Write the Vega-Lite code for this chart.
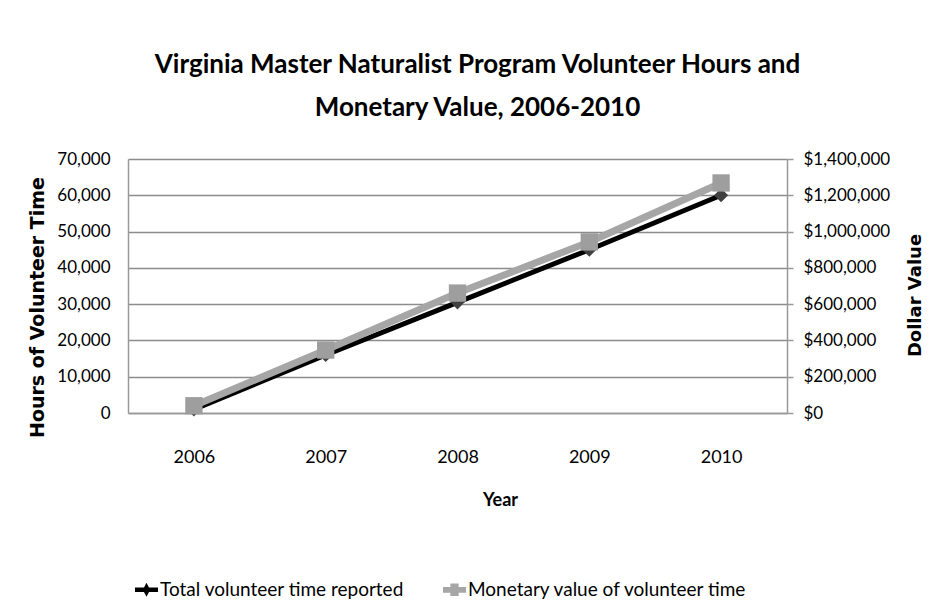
{
  "$schema": "https://vega.github.io/schema/vega-lite/v6.json",
  "width": 659,
  "height": 254,
  "autosize": "none",
  "padding": {"left": 128, "top": 159, "right": 152, "bottom": 201},
  "background": "white",
  "title": {
    "text": ["Virginia Master Naturalist Program Volunteer Hours and", "Monetary Value, 2006-2010"],
    "font": "Lato",
    "fontSize": 26,
    "fontWeight": "bold",
    "color": "black",
    "anchor": "middle",
    "dx": 20,
    "lineHeight": 43,
    "offset": 29
  },
  "data": {
    "values": [
      {"year": "2006", "series": "Total volunteer time reported", "value": 1000},
      {"year": "2007", "series": "Total volunteer time reported", "value": 16000},
      {"year": "2008", "series": "Total volunteer time reported", "value": 30500},
      {"year": "2009", "series": "Total volunteer time reported", "value": 45000},
      {"year": "2010", "series": "Total volunteer time reported", "value": 60000},
      {"year": "2006", "series": "Monetary value of volunteer time", "value": 40000},
      {"year": "2007", "series": "Monetary value of volunteer time", "value": 347000},
      {"year": "2008", "series": "Monetary value of volunteer time", "value": 661000},
      {"year": "2009", "series": "Monetary value of volunteer time", "value": 943000},
      {"year": "2010", "series": "Monetary value of volunteer time", "value": 1268000}
    ]
  },
  "encoding": {
    "x": {
      "field": "year",
      "type": "ordinal",
      "scale": {"paddingInner": 0, "paddingOuter": 0},
      "axis": {
        "title": "Year",
        "labelAngle": 0,
        "ticks": false,
        "tickSize": 0,
        "labelPadding": 35,
        "labelFont": "Lato",
        "labelFontSize": 18,
        "labelColor": "black",
        "domainColor": "#999999",
        "domainWidth": 1.5,
        "titleFont": "Lato",
        "titleFontSize": 18,
        "titleFontWeight": "bold",
        "titleColor": "black",
        "titleX": 372,
        "titleY": 87,
        "titleBaseline": "middle",
        "titleAlign": "center"
      }
    }
  },
  "layer": [
    {
      "transform": [{"filter": "datum.series === 'Total volunteer time reported'"}],
      "encoding": {
        "y": {
          "field": "value",
          "type": "quantitative",
          "scale": {"domain": [0, 70000], "nice": false},
          "axis": {
            "title": "Hours of Volunteer Time",
            "values": [0, 10000, 20000, 30000, 40000, 50000, 60000, 70000],
            "format": ",.0f",
            "ticks": false,
            "tickSize": 0,
            "labelPadding": 18,
            "labelFont": "Lato",
            "labelFontSize": 17,
            "labelColor": "black",
            "domainColor": "#999999",
            "domainWidth": 1.5,
            "grid": true,
            "gridColor": "#8c8c8c",
            "gridWidth": 1.5,
            "titleFont": "DejaVu Sans",
            "titleFontSize": 19,
            "titleFontWeight": "bold",
            "titleColor": "black",
            "titleAngle": -90,
            "titleX": -91,
            "titleY": 148,
            "titleAlign": "center",
            "titleBaseline": "middle"
          }
        }
      },
      "layer": [
        {
          "mark": {"type": "line", "strokeWidth": 5},
          "encoding": {
            "color": {
              "field": "series",
              "type": "nominal",
              "scale": {
                "domain": ["Total volunteer time reported", "Monetary value of volunteer time"],
                "range": ["#000000", "#a6a6a6"]
              },
              "legend": {
                "orient": "none",
                "legendX": 7,
                "legendY": 419,
                "direction": "horizontal",
                "columns": 2,
                "columnPadding": 38,
                "title": null,
                "symbolSize": 529,
                "symbolStrokeWidth": 0,
                "labelOffset": 2,
                "labelFont": "Lato",
                "labelFontSize": 19,
                "labelColor": "black",
                "labelLimit": 400,
                "encode": {
                  "symbols": {
                    "update": {
                      "shape": {"signal": "datum.value === 'Total volunteer time reported' ? 'M-1,-0.2L1,-0.2L1,0.2L-1,0.2Z M0,-0.6L0.32,0L0,0.6L-0.32,0Z' : 'M-1,-0.25L1,-0.25L1,0.25L-1,0.25Z M-0.36,-0.55L0.36,-0.55L0.36,0.55L-0.36,0.55Z'"},
                      "fill": {"signal": "datum.value === 'Total volunteer time reported' ? '#000000' : '#a6a6a6'"},
                      "strokeWidth": {"value": 0},
                      "opacity": {"value": 1}
                    }
                  }
                }
              }
            }
          }
        },
        {
          "mark": {"type": "point", "shape": "diamond", "filled": true, "size": 200, "color": "#404040", "opacity": 1}
        }
      ]
    },
    {
      "transform": [{"filter": "datum.series === 'Monetary value of volunteer time'"}],
      "encoding": {
        "y": {
          "field": "value",
          "type": "quantitative",
          "scale": {"domain": [0, 1400000], "nice": false},
          "axis": {
            "orient": "right",
            "title": "Dollar Value",
            "values": [0, 200000, 400000, 600000, 800000, 1000000, 1200000, 1400000],
            "format": "$,.0f",
            "ticks": true,
            "tickSize": 6,
            "tickColor": "#999999",
            "tickWidth": 1.5,
            "labelPadding": 10,
            "labelFont": "Lato",
            "labelFontSize": 17,
            "labelColor": "black",
            "domainColor": "#999999",
            "domainWidth": 1.5,
            "grid": false,
            "titleFont": "DejaVu Sans",
            "titleFontSize": 18,
            "titleFontWeight": "bold",
            "titleColor": "black",
            "titleAngle": -90,
            "titleX": 128,
            "titleY": 136,
            "titleAlign": "center",
            "titleBaseline": "middle"
          }
        }
      },
      "layer": [
        {
          "mark": {"type": "line", "strokeWidth": 7},
          "encoding": {
            "color": {"field": "series", "type": "nominal"}
          }
        },
        {
          "mark": {"type": "square", "filled": true, "size": 300, "color": "#9e9e9e", "opacity": 1}
        }
      ]
    }
  ],
  "resolve": {"scale": {"y": "independent"}},
  "config": {
    "view": {"stroke": null},
    "axis": {"gridColor": "#8c8c8c"}
  }
}
